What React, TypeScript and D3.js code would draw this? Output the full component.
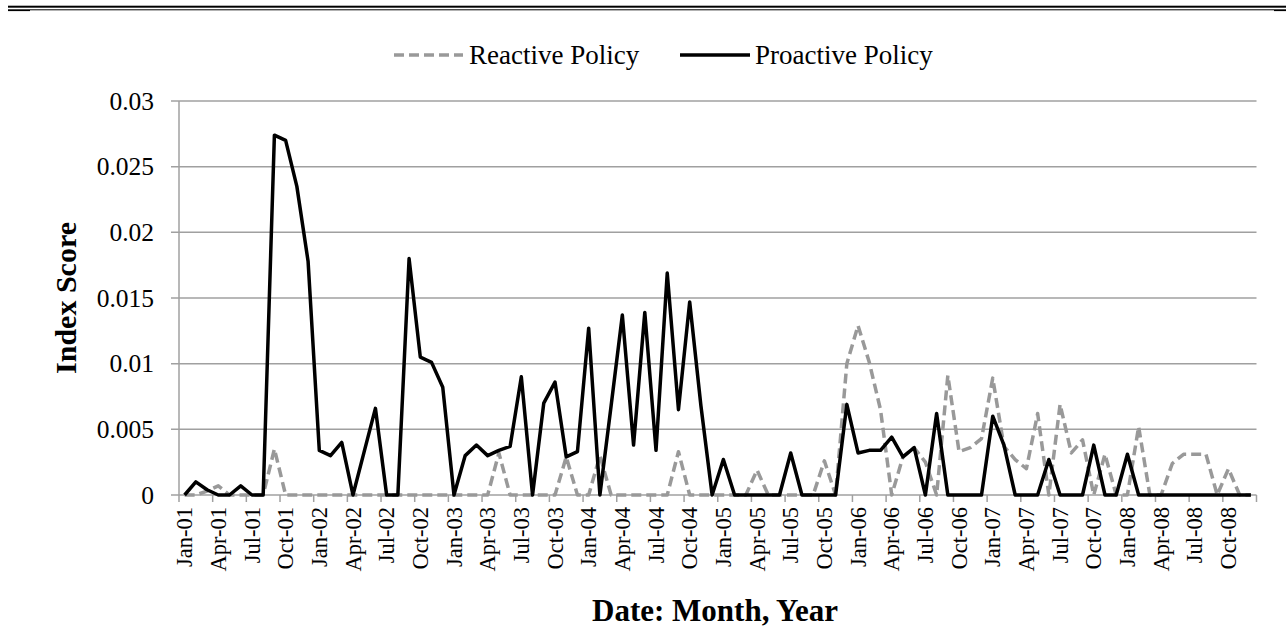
import React from "react";
import * as d3 from "d3";

const reactive: number[] = [
  0, 0, 0.0003, 0.0007, 0, 0, 0, 0, 0.0035, 0, 0, 0,
  0, 0, 0, 0, 0, 0, 0, 0, 0, 0, 0, 0,
  0, 0, 0, 0, 0.0032, 0, 0, 0, 0, 0, 0.0029, 0,
  0, 0.003, 0, 0, 0, 0, 0, 0, 0.0033, 0, 0, 0,
  0, 0, 0, 0.0019, 0, 0, 0, 0, 0, 0.0026, 0, 0.01,
  0.0129, 0.0101, 0.0065, 0, 0.0029, 0.0036, 0.0025, 0, 0.0091, 0.0033, 0.0036, 0.0043,
  0.0089, 0.0037, 0.0027, 0.002, 0.0062, 0, 0.0069, 0.0032, 0.0042, 0, 0.0031, 0,
  0, 0.0052, 0, 0, 0.0024, 0.0031, 0.0031, 0.0031, 0, 0.002, 0, 0,
];

const proactive: number[] = [
  0, 0.001, 0.0004, 0, 0, 0.0007, 0, 0, 0.0274, 0.027, 0.0235, 0.0178,
  0.0034, 0.003, 0.004, 0, 0.0033, 0.0066, 0, 0, 0.018, 0.0105, 0.0101, 0.0082,
  0, 0.003, 0.0038, 0.003, 0.0034, 0.0037, 0.009, 0, 0.007, 0.0086, 0.0029, 0.0033,
  0.0127, 0, 0.0068, 0.0137, 0.0038, 0.0139, 0.0034, 0.0169, 0.0065, 0.0147, 0.0068, 0,
  0.0027, 0, 0, 0, 0, 0, 0.0032, 0, 0, 0, 0, 0.0069,
  0.0032, 0.0034, 0.0034, 0.0044, 0.0029, 0.0036, 0, 0.0062, 0, 0, 0, 0,
  0.006, 0.0038, 0, 0, 0, 0.0027, 0, 0, 0, 0.0038, 0, 0,
  0.0031, 0, 0, 0, 0, 0, 0, 0, 0, 0, 0, 0,
];

const tickLabels: string[] = [
  "Jan-01", "Apr-01", "Jul-01", "Oct-01",
  "Jan-02", "Apr-02", "Jul-02", "Oct-02",
  "Jan-03", "Apr-03", "Jul-03", "Oct-03",
  "Jan-04", "Apr-04", "Jul-04", "Oct-04",
  "Jan-05", "Apr-05", "Jul-05", "Oct-05",
  "Jan-06", "Apr-06", "Jul-06", "Oct-06",
  "Jan-07", "Apr-07", "Jul-07", "Oct-07",
  "Jan-08", "Apr-08", "Jul-08", "Oct-08",
];

const yTicks: number[] = [0, 0.005, 0.01, 0.015, 0.02, 0.025, 0.03];
const yTickLabels: string[] = ["0", "0.005", "0.01", "0.015", "0.02", "0.025", "0.03"];

const seriesNames = ["Reactive Policy", "Proactive Policy"];

const W = 1286;
const H = 643;
const X0 = 179;
const X1 = 1256.5;
const Y0 = 495;
const Y1 = 101;
const FONT = "'Liberation Serif', 'Times New Roman', serif";
const GRID = "#a0a0a0";

export default function App() {
  const idx = d3.range(reactive.length);
  const xb = d3.scaleBand<number>().domain(idx).range([X0, X1]).padding(0);
  const bw = xb.bandwidth();
  const xc = (i: number) => (xb(i) as number) + bw / 2;
  const y = d3.scaleLinear().domain([0, 0.03]).range([Y0, Y1]);
  const line = d3
    .line<number>()
    .x((_, i) => xc(i))
    .y((v) => y(v));

  const tickIdx = d3.range(0, reactive.length + 1, 3);

  return (
    <div style={{ position: "absolute", left: 0, top: 0 }}>
      <svg width={W} height={H} style={{ display: "block", background: "#fff" }} fontFamily={FONT}>
        <rect x={0} y={0} width={W} height={H} fill="#fff" />
        {/* top rule */}
        <rect x={8} y={5.7} width={W - 8} height={2} fill="#000" />
        <rect x={30} y={9.3} width={1244} height={1} fill="#000" />
        <rect x={8} y={9.3} width={22} height={1.8} fill="#000" />
        <rect x={1274} y={9.3} width={12} height={1.8} fill="#000" />

        {/* gridlines + y ticks */}
        {yTicks.map((t, k) => (
          <g key={k}>
            <line x1={171} x2={X1} y1={y(t)} y2={y(t)} stroke={GRID} strokeWidth={1.5} />
            <text x={154} y={y(t)} dy="0.34em" textAnchor="end" fontSize={25.5}>
              {yTickLabels[k]}
            </text>
          </g>
        ))}
        {/* y axis */}
        <line x1={X0} x2={X0} y1={Y1} y2={Y0} stroke={GRID} strokeWidth={1.5} />
        {/* x ticks */}
        {tickIdx.map((i) => {
          const xx = i < reactive.length ? (xb(i) as number) : X1;
          return <line key={i} x1={xx} x2={xx} y1={Y0} y2={Y0 + 7} stroke={GRID} strokeWidth={1.5} />;
        })}
        {/* x labels */}
        {tickLabels.map((lab, k) => {
          const xx = xc(k * 3);
          return (
            <text
              key={k}
              transform={`translate(${xx},${507}) rotate(-90)`}
              textAnchor="end"
              dy="0.34em"
              fontSize={22.5}
            >
              {lab}
            </text>
          );
        })}

        {/* series */}
        <path d={line(reactive) || ""} fill="none" stroke="#999" strokeWidth={3.5} strokeDasharray="10,5" strokeLinejoin="round" />
        <path d={line(proactive) || ""} fill="none" stroke="#000" strokeWidth={3.5} strokeLinejoin="round" />

        {/* legend */}
        <line x1={394} x2={463} y1={55} y2={55} stroke="#999" strokeWidth={3.5} strokeDasharray="10,5" />
        <text x={469} y={55} dy="0.34em" fontSize={27}>
          {seriesNames[0]}
        </text>
        <line x1={680} x2={750} y1={55} y2={55} stroke="#000" strokeWidth={3.5} />
        <text x={755} y={55} dy="0.34em" fontSize={27}>
          {seriesNames[1]}
        </text>

        {/* axis titles */}
        <text
          transform={`translate(${66},${(Y0 + Y1) / 2}) rotate(-90)`}
          textAnchor="middle"
          dy="0.34em"
          fontSize={30}
          fontWeight="bold"
        >
          Index Score
        </text>
        <text x={715} y={621} textAnchor="middle" fontSize={31} fontWeight="bold">
          Date: Month, Year
        </text>
      </svg>
    </div>
  );
}
